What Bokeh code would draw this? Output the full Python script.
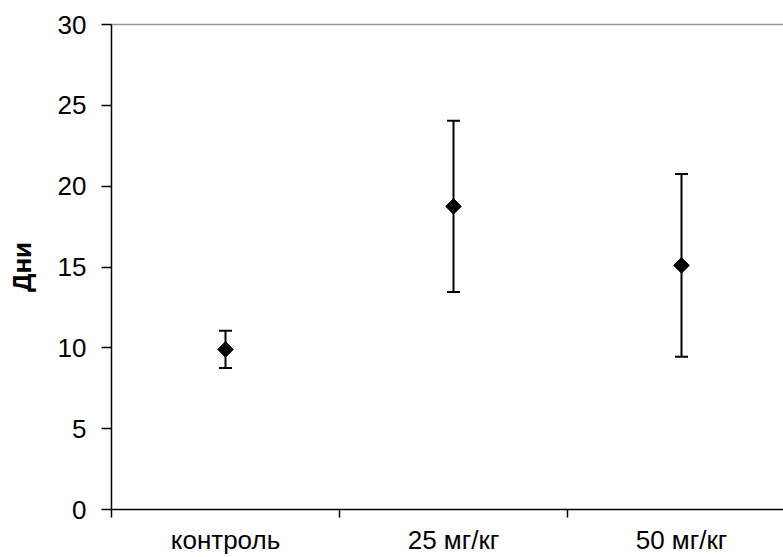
import math
from bokeh.plotting import figure
from bokeh.models import (ColumnDataSource, Range1d, FixedTicker, LinearAxis,
                          Whisker, TeeHead)
from bokeh.embed import file_html
from bokeh.resources import INLINE

# Groups, mean duration (days) and spread
groups = ["контроль", "25 мг/кг", "50 мг/кг"]
means = [9.9, 18.75, 15.1]
errors = [1.15, 5.3, 5.65]
y_ticks = [0, 5, 10, 15, 20, 25, 30]

xpos = [i + 0.5 for i in range(len(groups))]
lower = [m - e for m, e in zip(means, errors)]
upper = [m + e for m, e in zip(means, errors)]

src = ColumnDataSource(dict(x=xpos, y=means, lower=lower, upper=upper))

FONT = "Liberation Sans"
SIZE = "26px"

p = figure(width=783, height=557, output_backend="svg", toolbar_location=None,
           x_range=Range1d(0, 672 / 228), y_range=Range1d(0, 30),
           min_border_left=111, min_border_right=0, min_border_top=24,
           min_border_bottom=48, outline_line_color=None,
           background_fill_color="white", border_fill_color="white")
p.grid.visible = False

# x axis: group names centred, tick marks at the group boundaries
# (boundary marks point downward via a negative inward length)
xa = p.xaxis[0]
xa.ticker = FixedTicker(ticks=xpos, minor_ticks=[0, 1, 2, 3])
xa.major_label_overrides = {x: g for x, g in zip(xpos, groups)}
xa.major_tick_out = 0
xa.major_tick_in = 0
xa.minor_tick_out = 0
xa.minor_tick_in = -8
xa.minor_tick_line_color = "black"
xa.minor_tick_line_width = 1.5
xa.axis_line_color = "black"
xa.axis_line_width = 1.5
xa.major_label_standoff = 15
xa.major_label_text_font = FONT
xa.major_label_text_font_size = SIZE
xa.major_label_text_color = "black"

ya = p.yaxis[0]
ya.ticker = FixedTicker(ticks=y_ticks, minor_ticks=[])
ya.major_tick_out = 10
ya.major_tick_in = 0
ya.major_tick_line_color = "black"
ya.major_tick_line_width = 1.5
ya.axis_line_color = "black"
ya.axis_line_width = 1.5
ya.major_label_standoff = 15
ya.major_label_text_font = FONT
ya.major_label_text_font_size = SIZE
ya.major_label_text_color = "black"
ya.axis_label = "Дни"
ya.axis_label_text_font = FONT
ya.axis_label_text_font_size = SIZE
ya.axis_label_text_font_style = "bold"
ya.axis_label_text_color = "black"
ya.axis_label_standoff = 18

# thin grey rule along the top of the plot area
top = LinearAxis(ticker=FixedTicker(ticks=[]), axis_line_color="#999999",
                 axis_line_width=1.5, major_tick_out=0, major_tick_in=0,
                 minor_tick_out=0, minor_tick_in=0,
                 major_label_text_font_size="0px")
p.add_layout(top, "above")

p.add_layout(Whisker(source=src, base="x", lower="lower", upper="upper",
                     line_color="black", line_width=2,
                     upper_head=TeeHead(size=13, line_color="black", line_width=2),
                     lower_head=TeeHead(size=13, line_color="black", line_width=2)))

p.scatter("x", "y", source=src, marker="square", size=11, angle=math.pi / 4,
          fill_color="black", line_color="black", line_width=1)

open("out.html", "w").write(file_html(p, INLINE))
